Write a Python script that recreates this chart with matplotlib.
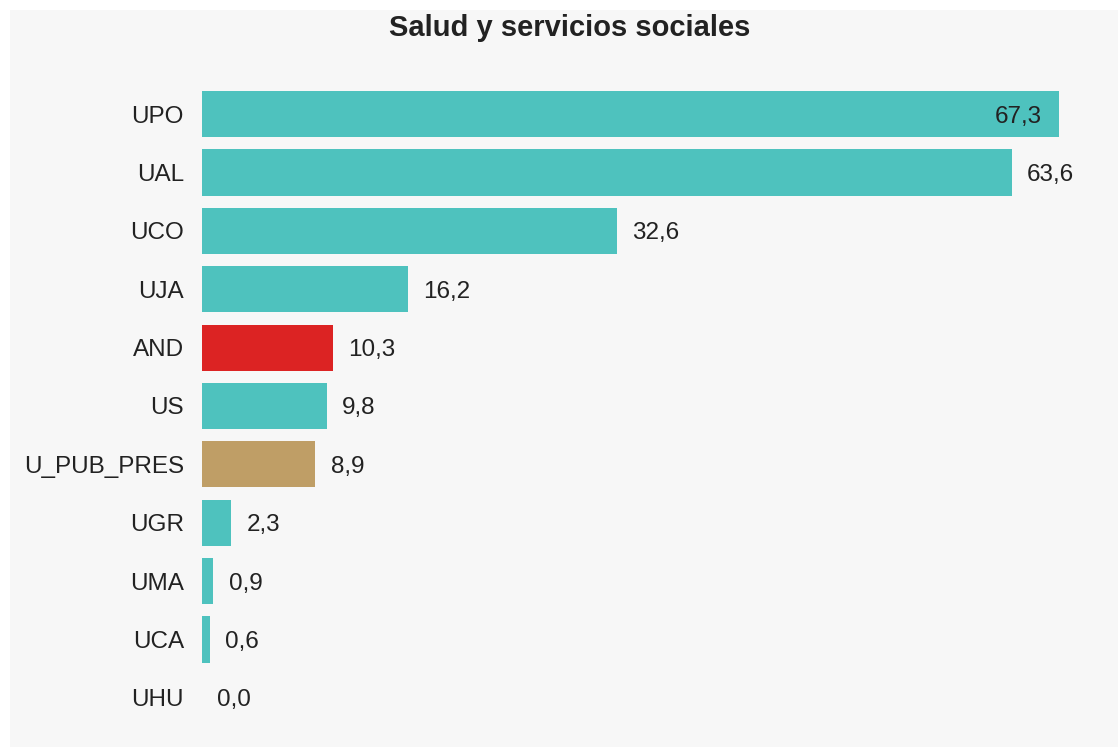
import matplotlib
matplotlib.use("Agg")
import matplotlib.pyplot as plt
from matplotlib.patches import Rectangle

plt.rcParams["font.family"] = ["Liberation Sans", "DejaVu Sans"]

# ─── Data ─────────────────────────────────────────────────────────────────────
universidades = ["UPO", "UAL", "UCO", "UJA", "AND", "US", "U_PUB_PRES",
                 "UGR", "UMA", "UCA", "UHU"]
valores = [67.3, 63.6, 32.6, 16.2, 10.3, 9.8, 8.9, 2.3, 0.9, 0.6, 0.0]

TEAL = "#4ec2be"
RED = "#dc2323"
TAN = "#bf9e66"
colores_especiales = {"AND": RED, "U_PUB_PRES": TAN}
colores = [colores_especiales.get(u, TEAL) for u in universidades]

# ─── Figure ───────────────────────────────────────────────────────────────────
W, H = 1118, 747
fig = plt.figure(figsize=(W / 100, H / 100), dpi=100, facecolor="white")
fig.patches.append(Rectangle((10 / W, 0), 1 - 10 / W, 1 - 10 / H,
                             transform=fig.transFigure, facecolor="#f7f7f7",
                             edgecolor="none", zorder=-10))

ax = fig.add_axes([202 / W, 1 - 727 / H, (1100 - 202) / W, (727 - 85) / H])
ax.set_facecolor("none")
ax.set_zorder(5)

y = list(range(len(universidades)))
ax.barh(y, valores, height=0.79, color=colores)
ax.set_ylim(len(universidades) - 0.5, -0.5)
ax.set_xlim(0, (1100 - 202) / ((1059 - 202) / 67.3))

vmax = max(valores)
for yi, v in zip(y, valores):
    txt = f"{v:.1f}".replace(".", ",")
    if v == vmax:
        ax.annotate(txt, (v, yi), xytext=(-12, 0), textcoords="offset points",
                    ha="right", va="center_baseline", fontsize=17.5,
                    color="#222222")
    else:
        ax.annotate(txt, (v, yi), xytext=(11, 0), textcoords="offset points",
                    ha="left", va="center_baseline", fontsize=17.5,
                    color="#222222")

ax.set_yticks(y)
ax.set_yticklabels(universidades, fontsize=17.5, color="#222222")
for lab in ax.get_yticklabels():
    lab.set_verticalalignment("center_baseline")
ax.tick_params(axis="y", length=0, pad=13)
ax.set_xticks([])
for s in ax.spines.values():
    s.set_visible(False)

fig.text(570 / W, 1 - 28 / H, "Salud y servicios sociales", ha="center",
         va="center", fontsize=21, fontweight="bold", color="#222222")

fig.savefig("out.png", dpi=100, facecolor=fig.get_facecolor())
